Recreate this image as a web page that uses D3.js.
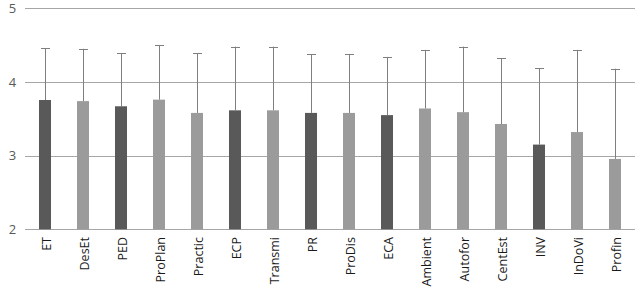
<!DOCTYPE html>
<html><head><meta charset="utf-8">
<script src="https://cdn.jsdelivr.net/npm/d3@7"></script>
<style>body{margin:0;background:#fff}</style>
</head><body>
<svg id="c" width="637" height="297"></svg>
<script>
const categories = ["ET","DesEt","PED","ProPlan","Practic","ECP","Transmi","PR","ProDis","ECA","Ambient","Autofor","CentEst","INV","InDoVi","Profin"];
const means = [3.755,3.74,3.67,3.76,3.58,3.615,3.615,3.58,3.58,3.55,3.64,3.59,3.43,3.15,3.32,2.955];
const upper = [4.457,4.45,4.39,4.50,4.39,4.48,4.48,4.38,4.38,4.34,4.435,4.48,4.32,4.19,4.435,4.18];
const dark = [1,0,1,0,0,1,0,1,0,1,0,0,0,1,0,0];
const yTicks = [2,3,4,5];

const svg = d3.select("#c");
const x = d3.scaleBand().domain(categories).range([26,634]).paddingInner(0.684).paddingOuter(0.342);
const y = d3.scaleLinear().domain([2,5]).range([229.3,8.3]);

// gridlines
svg.append("g").selectAll("line").data(yTicks).join("line")
  .attr("x1",25).attr("x2",635)
  .attr("y1",d=>Math.round(y(d))+0.5).attr("y2",d=>Math.round(y(d))+0.5)
  .attr("stroke","#a6a6a6").attr("stroke-width",1);

// y labels
const yAxis = d3.axisLeft(y).tickValues(yTicks).tickSize(0).tickPadding(0).tickFormat(d3.format("d"));
const ga = svg.append("g").attr("transform","translate(17,0)").call(yAxis);
ga.select(".domain").remove();
ga.selectAll("text").attr("font-family","Open Sans").attr("font-size",13).attr("fill","#595959").attr("text-anchor","middle").attr("dx",-4.5);

// bars
svg.append("g").selectAll("rect").data(categories).join("rect")
  .attr("x",d=>x(d)).attr("width",x.bandwidth())
  .attr("y",(d,i)=>y(means[i])).attr("height",(d,i)=>y(2)-y(means[i]))
  .attr("fill",(d,i)=>dark[i]?"#595959":"#9b9b9b");

// error bars
const eb = svg.append("g");
categories.forEach((c,i)=>{
  const cx = Math.round(x(c)+x.bandwidth()/2)+0.5;
  eb.append("line").attr("x1",cx).attr("x2",cx).attr("y1",y(means[i])).attr("y2",y(upper[i]))
    .attr("stroke","#7f7f7f").attr("stroke-width",1);
  eb.append("line").attr("x1",cx-4.5).attr("x2",cx+4.5).attr("y1",Math.round(y(upper[i]))+0.5).attr("y2",Math.round(y(upper[i]))+0.5)
    .attr("stroke","#7f7f7f").attr("stroke-width",1);
});

// x labels
const xa = svg.append("g").attr("transform","translate(0,229)").call(d3.axisBottom(x).tickSize(0).tickPadding(0));
xa.select(".domain").remove();
xa.selectAll("text").attr("font-family","Open Sans").attr("font-size",12.5).attr("fill","#1a1a1a")
  .attr("text-anchor","end").attr("transform","rotate(-90)").attr("x",-8).attr("y",0).attr("dy","0.45em");
</script>
</body></html>
